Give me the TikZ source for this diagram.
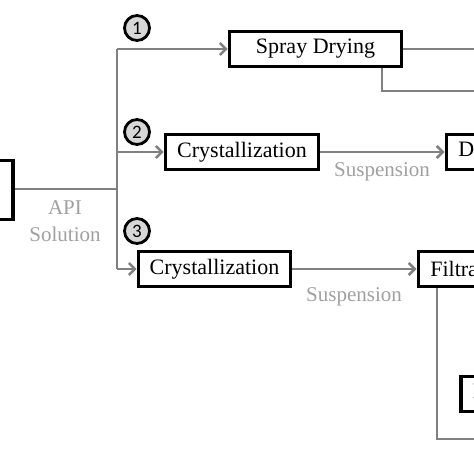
\documentclass[tikz,border=0pt]{standalone}
\usepackage{fontspec}
\setmainfont{Liberation Serif}
\newfontfamily\numfont{Carlito}
\usetikzlibrary{arrows.meta}
\definecolor{flowgray}{RGB}{128,128,128}
\definecolor{labelgray}{RGB}{160,160,160}
\definecolor{circfill}{RGB}{215,215,215}
\tikzset{
  procbox/.style={draw=black, line width=3.6pt, fill=white, minimum height=35pt, inner sep=0pt,
    font=\fontsize{22}{26}\selectfont},
  openbox/.style={procbox, anchor=west, inner xsep=12pt},
  flow/.style={draw=flowgray, line width=2.6pt},
  flowarrow/.style={flow, -{Straight Barb[length=6pt,width=12pt]}},
  flowlabel/.style={text=labelgray, font=\fontsize{21}{24}\selectfont, inner sep=0pt},
  stepnum/.style={circle, draw=black, line width=2.8pt, fill=circfill, minimum size=25pt, inner sep=0pt,
    font=\numfont\fontsize{19}{21}\selectfont}
}
\begin{document}
\begin{tikzpicture}[x=1pt,y=-1pt]
\useasboundingbox (0,0) rectangle (474,474);
\clip (0,0) rectangle (474,474);
% nodes
\node[procbox, minimum width=80pt, minimum height=59pt] (src) at (-27,190) {};
\coordinate (junc) at (117,189);
\coordinate (top) at (117,49);
\coordinate (mid) at (117,152);
\coordinate (bot) at (117,269);
\node[procbox, minimum width=172pt] (spray) at (315.5,49) {Spray Drying};
\node[procbox, minimum width=153pt] (cryA) at (242,152) {Crystallization};
\node[openbox] (dryA) at (444.5,152) {Drying};
\node[procbox, minimum width=152pt] (cryB) at (214.5,269) {Crystallization};
\node[openbox] (filt) at (416.5,269) {Filtration};
\node[openbox] (dryB) at (459,394) {Drying};
\node[stepnum] (n1) at (137,28) {1};
\node[stepnum] (n2) at (137,132) {2};
\node[stepnum] (n3) at (137,231) {3};
\node[flowlabel] (api) at (65,208) {API};
\node[flowlabel] (sol) at (65,234) {Solution};
\node[flowlabel] (susA) at (382,172) {Suspension};
\node[flowlabel] (susB) at (354,297) {Suspension};
\coordinate (sprayR) at (480,49);
\coordinate (sprayDown) at (382,91);
\coordinate (sprayOut) at (480,91);
\coordinate (filtDown) at (437,439);
\coordinate (filtOut) at (480,439);
% connectors
\draw[flow] (src.east |- junc) -- (junc);
\draw[flow] (top) -- (bot);
\draw[flowarrow] (top) -- (spray.west);
\draw[flowarrow] (mid) -- (cryA.west);
\draw[flowarrow] (bot) -- (cryB.west);
\draw[flowarrow] (cryA.east) -- (dryA.west);
\draw[flowarrow] (cryB.east) -- (filt.west);
\draw[flow] (spray.east) -- (sprayR);
\draw[flow] (spray.south -| sprayDown) -- (sprayDown) -- (sprayOut);
\draw[flow] (filt.south -| filtDown) -- (filtDown) -- (filtOut);
\end{tikzpicture}
\end{document}
